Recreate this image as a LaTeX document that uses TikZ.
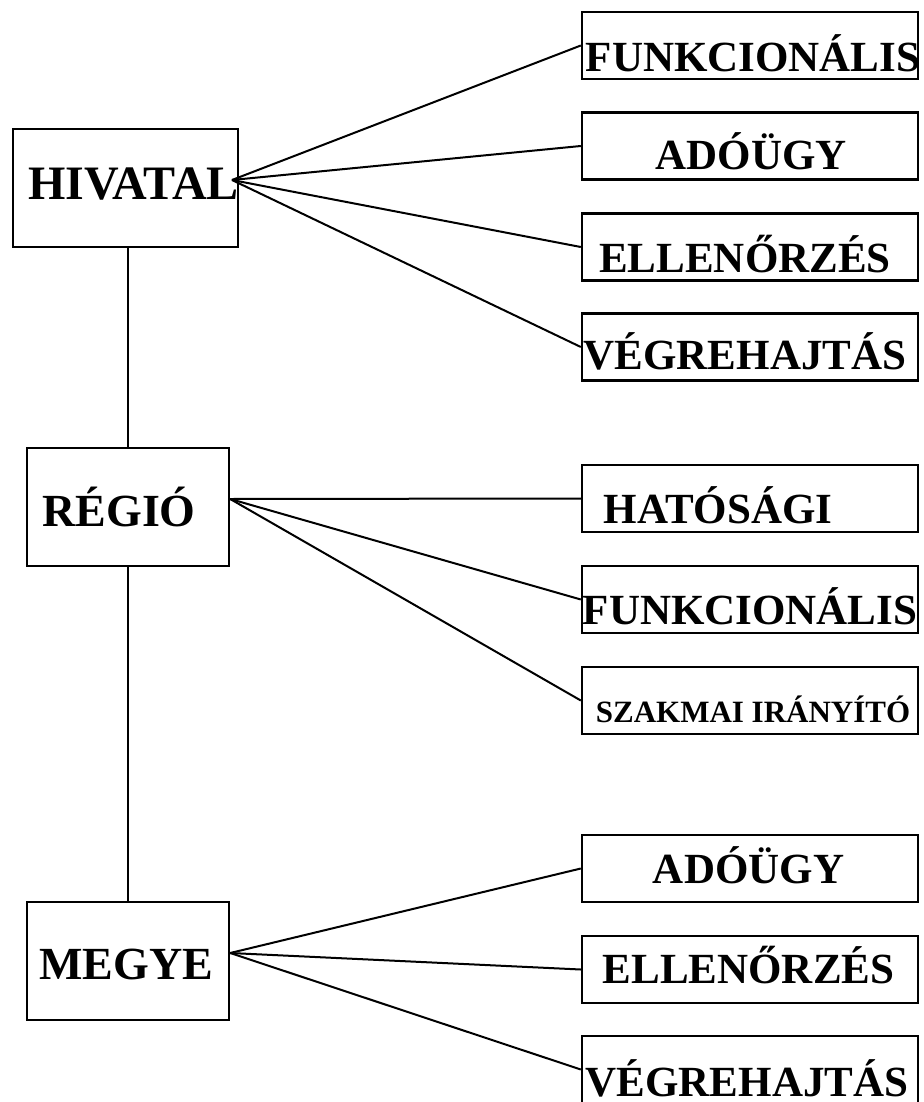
\documentclass[tikz,border=0pt]{standalone}
\usepackage{fontspec}
\setmainfont{Liberation Serif}
\begin{document}
\begin{tikzpicture}[x=1pt,y=-1pt,
  box/.style={draw,line width=2.4pt,inner sep=0pt},
  leaf/.style={box,minimum width=336pt,minimum height=67pt},
  unit/.style={box,minimum height=118pt},
  txt/.style={font=\fontsize{43}{43}\selectfont\bfseries,inner sep=0pt,anchor=base},
  big/.style={txt,font=\fontsize{46}{46}\selectfont\bfseries},
  link/.style={line width=2pt}]
\useasboundingbox (0,0) rectangle (923,1102);

% bal oldali egysegek
\node[unit,minimum width=225pt] (hiv) at (125.5,188) {};
\node[big,font=\fontsize{48}{48}\selectfont\bfseries] at ([xshift=8pt,yshift=-12pt]hiv.center) {HIVATAL};
\node[unit,minimum width=202pt] (reg) at (128,507) {};
\node[big] at ([xshift=-9pt,yshift=-19pt]reg.center) {RÉGIÓ};
\node[unit,minimum width=202pt] (megy) at (128,961) {};
\node[big] at ([xshift=-2pt,yshift=-18pt]megy.center) {MEGYE};

\coordinate (hivhub) at (232,180);
\coordinate (reghub) at ([yshift=8pt]reg.east);
\coordinate (megyhub) at ([yshift=8pt]megy.east);

\draw[link] (reg.north) -- (reg.north |- hiv.south);
\draw[link] (reg.south) -- (megy.north);

% jobb oldali egysegek
\foreach \n/\y/\t/\dx/\dy in {hf/45.5/FUNKCIONÁLIS/3/26, ha/146/ADÓÜGY/1/24,
    he/247/ELLENŐRZÉS/-5/25, hv/347/VÉGREHAJTÁS/-5/22} {
  \node[leaf] (\n) at (750,\y) {};
  \node[txt] at ([xshift=\dx pt,yshift=-\dy pt]\n.center) {\t};
  \draw[link] (hivhub) -- (\n.west);
}
\foreach \n/\y/\t/\dx/\dy in {rh/498.5/HATÓSÁGI/-32/24.5, rf/599.5/FUNKCIONÁLIS/0/25,
    rs/700.5/{\fontsize{31}{31}\selectfont SZAKMAI IRÁNYÍTÓ}/3/21.5} {
  \node[leaf] (\n) at (750,\y) {};
  \node[txt] at ([xshift=\dx pt,yshift=-\dy pt]\n.center) {\t};
  \draw[link] (reghub) -- (\n.west);
}
\foreach \n/\y/\t/\dx/\dy in {ma/868.5/ADÓÜGY/-1.5/15, me/969.5/ELLENŐRZÉS/-1.5/13.5,
    mv/1069.5/VÉGREHAJTÁS/-3/27} {
  \node[leaf] (\n) at (750,\y) {};
  \node[txt] at ([xshift=\dx pt,yshift=-\dy pt]\n.center) {\t};
  \draw[link] (megyhub) -- (\n.west);
}
\end{tikzpicture}
\end{document}
